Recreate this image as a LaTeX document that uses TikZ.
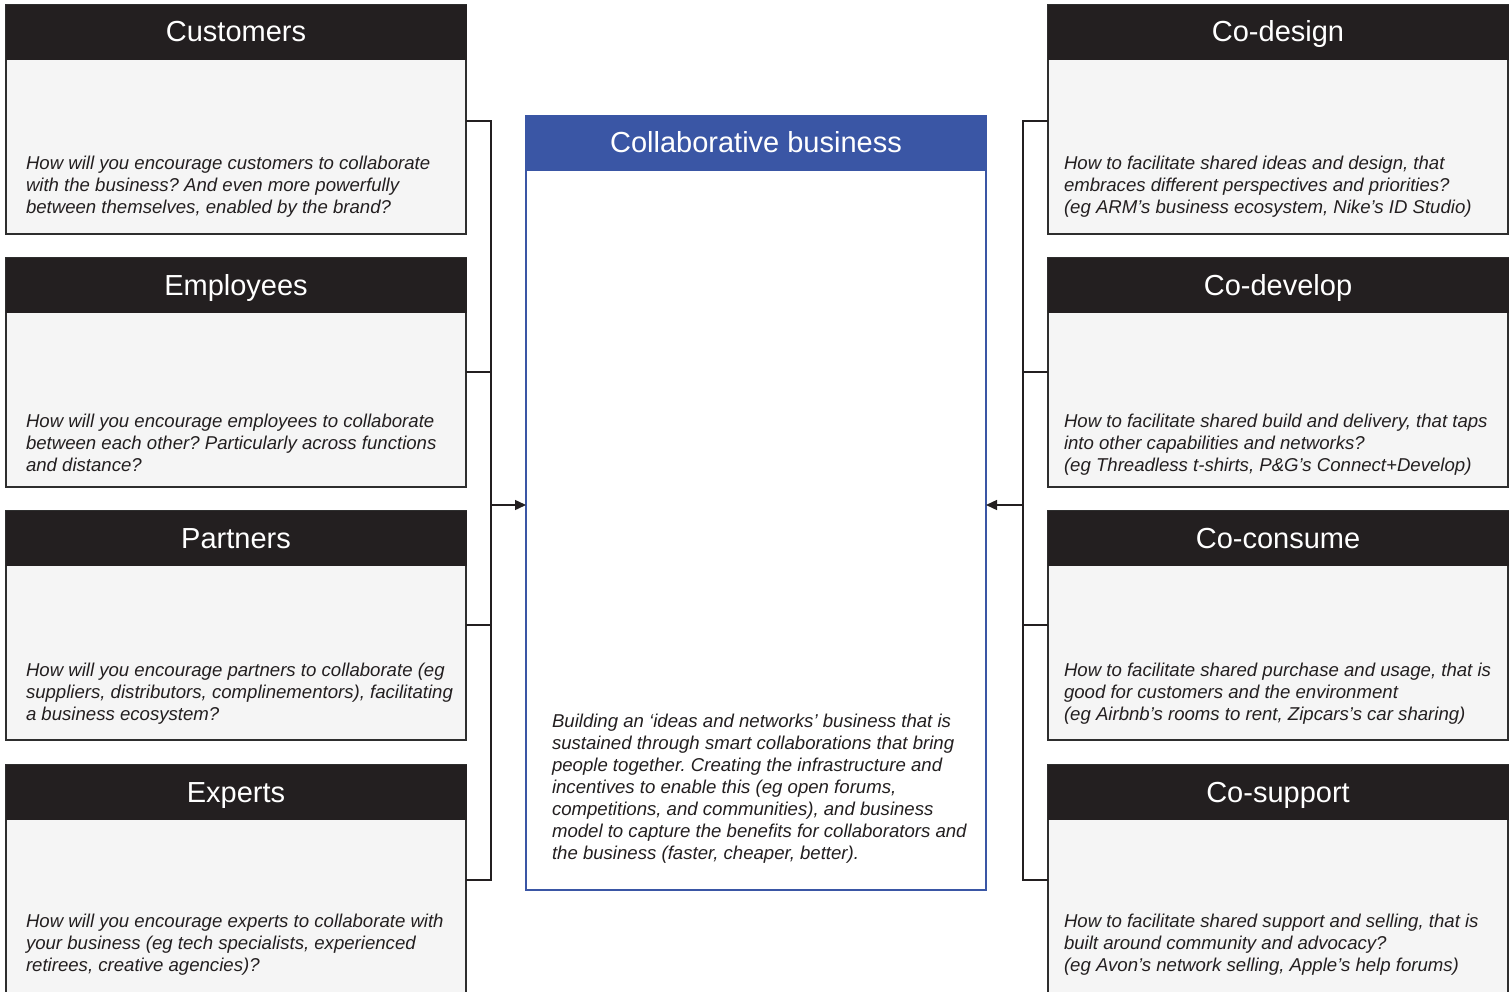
\documentclass[tikz,border=0pt]{standalone}
\usepackage{fontspec}
\setmainfont{Liberation Sans}
\usetikzlibrary{arrows.meta}
\frenchspacing

\definecolor{inkdark}{HTML}{231F20}
\definecolor{cardfill}{HTML}{F5F5F5}
\definecolor{cardline}{HTML}{2E2E2E}
\definecolor{bizblue}{HTML}{3A56A5}

\tikzset{
  card/.style={draw=cardline, fill=cardfill, line width=1.4pt, rectangle,
    minimum width=460pt, minimum height=229pt, anchor=north west,
    inner sep=0pt, outer sep=0pt},
  cardhead/.style={fill=inkdark, rectangle, minimum width=461pt,
    minimum height=55pt, anchor=north west, inner sep=0pt, outer sep=0pt,
    text height=21pt, text depth=2pt,
    text=white, font=\fontsize{29}{34}\selectfont},
  bizcard/.style={draw=bizblue, fill=white, line width=1.4pt, rectangle,
    minimum width=460pt, minimum height=774pt, anchor=north west,
    inner sep=0pt, outer sep=0pt},
  bizhead/.style={cardhead, fill=bizblue},
  question/.style={anchor=north west, inner sep=0pt, outer sep=0pt,
    align=left, text=inkdark,
    font=\fontsize{18.6}{22}\selectfont\itshape},
  bracket/.style={draw=inkdark, line width=1.4pt},
  feed/.style={bracket, -{Triangle[length=11pt,width=10pt]}},
}

\begin{document}
\begin{tikzpicture}[x=1pt,y=-1pt]
\useasboundingbox (0,0) rectangle (1509,992);

% ---------- left column: who collaborates ----------
\node[card] (cust) at (6,5) {};
\node[cardhead] (custH) at (5.5,5) {Customers};
\node[question] (custT) at (26,154.6) {\strut How will you encourage customers to collaborate\\
with the business? And even more powerfully\\
between themselves, enabled by the brand?};

\node[card] (emp) at (6,258) {};
\node[cardhead] (empH) at (5.5,258) {Employees};
\node[question] (empT) at (26,411.6) {\strut How will you encourage employees to collaborate\\
between each other? Particularly across functions\\
and distance?};

\node[card] (part) at (6,511) {};
\node[cardhead] (partH) at (5.5,511) {Partners};
\node[question] (partT) at (26,660.6) {\strut How will you encourage partners to collaborate (eg\\
suppliers, distributors, complinementors), facilitating\\
a business ecosystem?};

\node[card] (expt) at (6,765) {};
\node[cardhead] (exptH) at (5.5,765) {Experts};
\node[question] (exptT) at (26,911.6) {\strut How will you encourage experts to collaborate with\\
your business (eg tech specialists, experienced\\
retirees, creative agencies)?};

% ---------- right column: ways of collaborating ----------
\node[card] (cdes) at (1048,5) {};
\node[cardhead] (cdesH) at (1047.5,5) {Co-design};
\node[question] (cdesT) at (1064,154.6) {\strut How to facilitate shared ideas and design, that\\
embraces different perspectives and priorities?\\
(eg ARM’s business ecosystem, Nike’s ID Studio)};

\node[card] (cdev) at (1048,258) {};
\node[cardhead] (cdevH) at (1047.5,258) {Co-develop};
\node[question] (cdevT) at (1064,411.6) {\strut How to facilitate shared build and delivery, that taps\\
into other capabilities and networks?\\
(eg Threadless t-shirts, P\&G’s Connect+Develop)};

\node[card] (ccon) at (1048,511) {};
\node[cardhead] (cconH) at (1047.5,511) {Co-consume};
\node[question] (cconT) at (1064,660.6) {\strut How to facilitate shared purchase and usage, that is\\
good for customers and the environment\\
(eg Airbnb’s rooms to rent, Zipcars’s car sharing)};

\node[card] (csup) at (1048,765) {};
\node[cardhead] (csupH) at (1047.5,765) {Co-support};
\node[question] (csupT) at (1064,911.6) {\strut How to facilitate shared support and selling, that is\\
built around community and advocacy?\\
(eg Avon’s network selling, Apple’s help forums)};

% ---------- centre: the collaborative business ----------
\node[bizcard] (biz) at (526,116) {};
\node[bizhead] (bizH) at (525.5,116) {Collaborative business};
\node[question] (bizT) at (552,711.6) {\strut Building an ‘ideas and networks’ business that is\\
sustained through smart collaborations that bring\\
people together. Creating the infrastructure and\\
incentives to enable this (eg open forums,\\
competitions, and communities), and business\\
model to capture the benefits for collaborators and\\
the business (faster, cheaper, better).};

% ---------- brackets feeding the centre ----------
\coordinate (lA) at (491,121);
\coordinate (lB) at (491,372);
\coordinate (lC) at (491,625);
\coordinate (lD) at (491,880);
\coordinate (lM) at (491,505);
\draw[bracket] (cust.east |- lA) -- (lA) -- (lD) -- (expt.east |- lD);
\draw[bracket] (emp.east |- lB) -- (lB);
\draw[bracket] (part.east |- lC) -- (lC);
\draw[feed] (lM) -- (biz.west |- lM);

\coordinate (rA) at (1023,121);
\coordinate (rB) at (1023,372);
\coordinate (rC) at (1023,625);
\coordinate (rD) at (1023,880);
\coordinate (rM) at (1023,505);
\draw[bracket] (cdes.west |- rA) -- (rA) -- (rD) -- (csup.west |- rD);
\draw[bracket] (cdev.west |- rB) -- (rB);
\draw[bracket] (ccon.west |- rC) -- (rC);
\draw[feed] (rM) -- (biz.east |- rM);
\end{tikzpicture}
\end{document}
